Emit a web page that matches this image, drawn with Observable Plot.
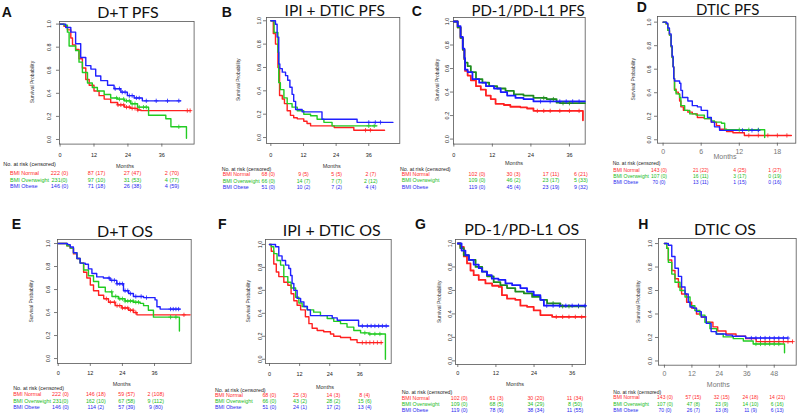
<!DOCTYPE html>
<html><head><meta charset="utf-8">
<script src="https://cdn.jsdelivr.net/npm/d3@7"></script>
<script src="https://cdn.jsdelivr.net/npm/@observablehq/plot@0.6"></script>
<style>
html,body{margin:0;padding:0;background:#fff;}
#root{position:relative;width:800px;height:414px;overflow:hidden;background:#fff;}
#overlay{position:absolute;left:0;top:0;}
</style></head><body><div id="root"></div>
<script>
// ---------------- DATA ----------------
const groups = ["BMI Normal", "BMI Overweight", "BMI Obese"];
const titles = ["D+T PFS", "IPI + DTIC PFS", "PD-1/PD-L1 PFS", "DTIC PFS", "D+T OS", "IPI + DTIC OS", "PD-1/PD-L1 OS", "DTIC OS"];
const letters = ["A", "B", "C", "D", "E", "F", "G", "H"];
const yTicks = [0, 0.2, 0.4, 0.6, 0.8, 1.0];
const ticks36 = [0, 12, 24, 36];
const ticks18 = [0, 6, 12, 18];
const ticks48 = [0, 12, 24, 36, 48];

// Kaplan-Meier steps [month, survival]
const A_normal = [[0,1],[1.4,.98],[2.6,.95],[3.8,.88],[4.4,.82],[5.5,.78],[6.7,.70],[7.9,.62],[9.1,.52],[10.3,.47],[12,.42],[13.8,.38],[15.6,.35],[17.9,.32],[20.3,.30],[22.7,.28],[25,.27],[27.4,.255],[28.6,.25],[46,.25]];
const A_over = [[0,1],[1.4,.99],[2.6,.93],[3.2,.81],[5.5,.77],[6.7,.67],[7.9,.58],[9.7,.49],[11.4,.45],[13.2,.42],[15.6,.39],[17.9,.36],[20.3,.35],[22.7,.335],[25,.31],[27.4,.28],[31.3,.21],[37.4,.18],[39.2,.11],[44.7,.01]];
const A_obese = [[0,1],[2,.97],[3.8,.93],[5.5,.83],[7.3,.71],[9.1,.64],[10.9,.61],[12.6,.55],[14.4,.51],[16.8,.47],[19.1,.44],[21.5,.41],[23.8,.38],[26.2,.36],[29.1,.335],[42.7,.335]];
const A_normal_c = [20.5,21.5,22.5,23.5,24.5,25.5,26.5,27.5,45,46];
const A_over_c = [20,21,22.5,23.5,24.5,25.5,26.5,28,29.5,30.5,42];
const A_obese_c = [19.5,21,22,23,24.5,25.5,27,28,30.5,34,38,42];

const B_normal = [[0,1],[0.9,.89],[1.7,.8],[2.6,.6],[3.2,.36],[4.2,.33],[5,.29],[6,.23],[7.2,.19],[8.4,.17],[9.7,.16],[12.1,.14],[13.3,.12],[14.6,.10],[23.3,.086],[30.5,.063],[41.8,.063]];
const B_over = [[0,1],[1.2,.9],[2.6,.73],[2.9,.47],[3.5,.41],[4.8,.34],[6,.29],[7.8,.26],[9.7,.23],[12.1,.20],[14.6,.186],[17,.157],[19.5,.13],[22.5,.10],[39,.10]];
const B_obese = [[0,1],[1.7,.97],[2.3,.86],[2.9,.63],[3.3,.59],[4.2,.56],[5.4,.53],[6.2,.49],[7,.43],[7.8,.37],[8.4,.31],[9.1,.24],[11.5,.22],[18.8,.157],[31.7,.13],[44.9,.13]];
const B_normal_c = [34.8,36.6];
const B_over_c = [36,38];
const B_obese_c = [36,38.4,40.3];

const C_normal = [[0,1],[1.2,.95],[2.1,.86],[2.8,.76],[3.3,.68],[3.5,.58],[4.3,.54],[5.3,.50],[6.9,.45],[8.4,.42],[10,.37],[11.5,.34],[13,.30],[15.6,.29],[17.6,.275],[20.7,.27],[22.8,.26],[24.8,.24],[40.2,.16]];
const C_over = [[0,1],[1.2,.95],[2.1,.86],[2.8,.76],[3.3,.68],[3.5,.65],[4.3,.62],[5.3,.57],[6.9,.51],[8.9,.48],[11,.45],[13.5,.43],[16.1,.41],[18.7,.38],[21.7,.37],[24.8,.35],[28.9,.34],[32,.31],[33.1,.305],[40.8,.305]];
const C_obese = [[0,1],[1.2,.96],[2.1,.87],[2.8,.77],[3.3,.69],[3.5,.59],[4.3,.57],[5.8,.51],[7.9,.48],[10,.45],[12.5,.43],[14.6,.40],[16.6,.37],[19.2,.35],[21.7,.34],[24.8,.32],[40.8,.32]];
const C_normal_c = [26,28,30,33,36,39];
const C_over_c = [28,31,34,36];
const C_obese_c = [27,30,33,35,37,39];

const D_normal = [[0,1],[0.47,.985],[0.74,.93],[1,.89],[1.26,.79],[1.42,.70],[1.58,.62],[1.68,.52],[1.8,.43],[2.05,.405],[2.4,.39],[2.6,.33],[2.8,.28],[3.2,.25],[3.9,.235],[4.6,.22],[5.4,.19],[6.5,.18],[7.6,.15],[8.4,.12],[8.9,.09],[10,.07],[11,.06],[12.8,.037],[20.2,.037]];
const D_over = [[0,1],[0.47,.985],[0.74,.93],[1,.89],[1.26,.79],[1.42,.70],[1.58,.62],[1.68,.52],[1.8,.42],[2.05,.39],[2.6,.36],[2.8,.29],[3.4,.25],[4.2,.22],[5.2,.21],[6.5,.18],[7.6,.16],[8.1,.15],[9.2,.14],[9.7,.085],[16,.02]];
const D_obese = [[0,1],[0.55,.99],[0.74,.95],[1,.90],[1.26,.80],[1.42,.71],[1.58,.62],[1.68,.52],[1.8,.50],[2.6,.48],[2.8,.42],[3.05,.36],[3.9,.33],[4.6,.29],[5.4,.28],[6,.25],[7,.19],[7.6,.15],[8.1,.11],[8.9,.08],[15.2,.08]];
const D_normal_c = [13.5,15,16.5,18,19.5];
const D_over_c = [12,13.5,15];
const D_obese_c = [12.5,14,15];

const E_normal = [[0,1],[3.2,.98],[4.5,.96],[5.7,.91],[7,.87],[8.2,.83],[9.5,.75],[10.7,.70],[12,.64],[13.2,.59],[15.1,.55],[17,.52],[18.8,.49],[21.3,.46],[23.8,.44],[26.3,.42],[28.1,.40],[29.4,.38],[49.3,.38]];
const E_over = [[0,1],[3.2,.98],[4.5,.96],[5.7,.92],[7,.87],[8.2,.83],[9.5,.77],[11.3,.72],[13.2,.67],[15.1,.62],[17.6,.58],[20.1,.54],[22.5,.52],[25,.50],[28.1,.49],[30.6,.48],[31.9,.46],[33.7,.42],[35.6,.36],[45.3,.24]];
const E_obese = [[0,1],[3.5,.99],[4.5,.97],[5.7,.92],[7,.87],[8.2,.83],[10.1,.82],[11.3,.78],[12.6,.74],[14.4,.71],[16.9,.70],[19.4,.68],[21.9,.65],[24.4,.59],[26.3,.565],[28.1,.54],[31.9,.53],[36.2,.51],[36.9,.45],[38.1,.43],[45.6,.43]];
const E_normal_c = [18,19.5,21,22,23,24,25,26,27,28,29,47];
const E_over_c = [20,21.5,23,24,25,26,27,28,29,30,42,44];
const E_obese_c = [19,20,21,22,23,24,25,26,27,29,31,33,42,43,44,45];

const F_normal = [[0,1],[0.7,.94],[1.7,.83],[2.7,.76],[3.7,.72],[5.7,.67],[7.3,.645],[8.6,.57],[9.7,.51],[11,.47],[12.4,.43],[14.3,.37],[15.7,.31],[17,.27],[19,.25],[21.6,.24],[24.3,.22],[25.6,.20],[28.3,.19],[32.3,.17],[34.9,.145],[44.9,.145]];
const F_over = [[0,1],[0.7,.98],[1.7,.92],[3,.86],[4.4,.82],[5.7,.72],[7.3,.67],[8.6,.62],[10.4,.54],[11.7,.49],[13,.46],[15,.43],[17.6,.41],[20.3,.38],[23,.355],[25.6,.33],[28.3,.31],[30.9,.28],[33.6,.25],[36.3,.23],[39.6,.22],[46.2,0]];
const F_obese = [[0,1],[1.7,1],[2.4,.98],[3.7,.90],[5,.86],[6.4,.82],[7.7,.79],[8.4,.73],[9,.66],[9.7,.60],[11,.53],[12.4,.50],[13.7,.46],[15.1,.43],[16.3,.38],[25,.36],[27,.34],[35.5,.29],[47.5,.29]];
const F_normal_c = [37,38.5,40,41.5,43,44.5];
const F_over_c = [38,40,42,44];
const F_obese_c = [37,39,40.5,42,43.5,45,46.5];

const G_normal = [[0,1],[0.8,.97],[1.9,.89],[2.9,.83],[4,.77],[5,.73],[6.6,.69],[8.7,.66],[10.8,.64],[12.9,.63],[13.9,.56],[15.5,.53],[18.1,.52],[19.7,.47],[21.8,.46],[23.9,.43],[26,.39],[29.7,.375],[40.2,.375]];
const G_over = [[0,1],[0.8,.96],[1.9,.90],[3.5,.86],[5.6,.80],[7.7,.76],[9.2,.72],[11.3,.67],[13.4,.645],[15.5,.62],[18.1,.59],[20.8,.575],[23.4,.545],[26,.52],[28.1,.49],[32.3,.465],[40.2,.465]];
const G_obese = [[0,1],[1.2,.94],[2.4,.90],[3.5,.86],[5,.82],[6.6,.79],[7.6,.76],[9.2,.73],[10.7,.70],[12.8,.69],[15,.66],[17.1,.645],[19.7,.62],[21.8,.59],[23.9,.56],[26,.52],[27.1,.47],[40.2,.47]];
const G_normal_c = [31,33,35,37,39];
const G_over_c = [30,33,35,38];
const G_obese_c = [28,30,32,34,36,38,40];

const H_normal = [[0,1],[1,.96],[1.7,.86],[3.2,.77],[4.6,.70],[6.1,.63],[7.5,.57],[9.7,.50],[11.9,.45],[14,.40],[16.1,.375],[18.3,.33],[21.2,.29],[23.3,.255],[26.9,.23],[31.3,.21],[35.5,.19],[40.1,.165],[56,.165]];
const H_over = [[0,1],[1,.96],[1.7,.84],[3.2,.74],[4.6,.67],[6.8,.60],[9,.545],[11.2,.47],[13.3,.43],[15.5,.39],[17.7,.33],[19.9,.275],[22.8,.23],[25.7,.205],[30.1,.19],[34.5,.17],[38.8,.145],[52.5,.07]];
const H_obese = [[0,1],[1.7,.985],[3.2,.89],[4.6,.79],[6.1,.72],[7.5,.63],[9,.57],[10.4,.50],[11.2,.46],[12.6,.45],[14,.42],[16.1,.375],[18.3,.32],[20.4,.25],[22.6,.23],[26.9,.22],[29.7,.21],[35.5,.195],[53.9,.195]];
const H_normal_c = [42,44,46,48,50,52,54,56];
const H_over_c = [40,42,44,46,48,50];
const H_obese_c = [38,40,42,44,46,48,50,52,54];

// Numbers at risk (censored)
const A_risk = [["222 (0)","87 (17)","27 (47)","2 (70)"],["231(0)","97 (10)","31 (53)","4 (77)"],["146 (0)","71 (18)","26 (38)","4 (59)"]];
const B_risk = [["68 (0)","9 (5)","5 (5)","2 (7)"],["66 (0)","14 (7)","7 (7)","2 (12)"],["51 (0)","10 (2)","7 (2)","4 (4)"]];
const C_risk = [["102 (0)","30 (3)","17 (11)","6 (21)"],["109 (0)","46 (2)","23 (17)","5 (33)"],["119 (0)","45 (4)","23 (19)","9 (32)"]];
const D_risk = [["143 (0)","21 (22)","4 (25)","1 (27)"],["107 (0)","16 (11)","3 (17)","0 (19)"],["70 (0)","13 (11)","1 (15)","0 (16)"]];
const E_risk = [["222 (0)","146 (18)","59 (57)","2 (108)"],["231(0)","162 (10)","67 (58)","9 (112)"],["146 (0)","114 (2)","57 (39)","9 (80)"]];
const F_risk = [["68 (0)","25 (3)","14 (3)","8 (4)"],["66 (0)","43 (2)","28 (2)","15 (6)"],["51 (0)","24 (1)","17 (2)","13 (4)"]];
const G_risk = [["102 (0)","61 (3)","30 (20)","11 (34)"],["109 (0)","68 (5)","34 (29)","8 (50)"],["119 (0)","78 (9)","38 (34)","11 (55)"]];
const H_risk = [["143 (0)","57 (15)","32 (15)","24 (18)","14 (21)"],["107 (0)","47 (8)","23 (9)","14 (10)","6 (16)"],["70 (0)","26 (7)","13 (8)","11 (9)","6 (13)"]];

// ---------------- LAYOUT (pixels, styles) ----------------
const layout = {
  A: {frame:[58.7,20.7,193.3,143.3], xd:[-0.2,47.4], yd:[-0.04,1.0225], ylab:10, xlab:10.7, letter:[1.7,16.7], title:[128,17.5], tfs:16, surv:32, months:[125,166], head:[3.3,164], labX:10, rows:[173,180,186.3], cols:[59.5,96.5,132.5,172], rfs:5.5},
  B: {frame:[266,16.7,399.3,142.7], xd:[-1.6,47.4], yd:[-0.051,1.028], ylab:7, xlab:11.3, letter:[221.7,16.7], title:[334.7,15.5], tfs:15.5, surv:238.3, months:[331.7,165.7], head:[221.7,169], labX:222.7, rows:[174,180.7,186.7], cols:[268.3,303.5,336.7,370.8], rfs:5.2},
  C: {frame:[453.3,16.7,585,143.3], xd:[-0.1,40.9], yd:[-0.0425,1.034], ylab:6.6, xlab:10.7, letter:[411.7,16], title:[528,15.5], tfs:15, surv:436.7, months:[514,163.3], head:[400,169.3], labX:401.7, rows:[174.3,180.3,186.7], cols:[477,513.5,551,580.8], dark:true, rfs:5.3},
  D: {frame:[656.7,16,795,142.7], xd:[-0.88,20.9], yd:[-0.029,1.048], ylab:8.7, xlab:9, letter:[636.7,11.7], title:[727.7,15.2], tfs:15, surv:633.3, months:[725,156], head:[612.7,163.3], labX:613.3, rows:[170,175.7,181.7], cols:[659,700.8,739.8,774.8], big:true, rfs:5},
  E: {frame:[57.3,239.3,191,363.3], xd:[-0.26,49.7], yd:[-0.043,1.035], ylab:9, xlab:9.4, letter:[11.7,229.3], title:[125,236.5], tfs:16, surv:30.7, months:[121.7,384], head:[13.3,388.3], labX:13.3, rows:[394.3,400.7,407], cols:[60.5,95.8,126.7,155.8], rfs:5.3},
  F: {frame:[265,239.3,390.7,363.3], xd:[-1.6,48.5], yd:[-0.037,1.043], ylab:5.7, xlab:11, letter:[218,229.3], title:[331.7,236], tfs:16, surv:248.3, months:[325,386.7], head:[215,390], labX:215, rows:[395,401,407.3], cols:[269.3,300,333.3,364.7], rfs:5.3},
  G: {frame:[455,239.3,585,364.3], xd:[-0.72,40.2], yd:[-0.031,1.034], ylab:5, xlab:9, letter:[415,229.3], title:[521.7,235], tfs:16, surv:439.3, months:[515,384], head:[401.7,391.7], labX:401.7, rows:[397.7,404,410.3], cols:[459.2,496.5,535.8,575], dark:true, rfs:5.3},
  H: {frame:[658.3,238.3,796,365], xd:[-2.6,57.6], yd:[-0.036,1.043], ylab:8.3, xlab:9, letter:[638.3,229.3], title:[725,235], tfs:16, surv:638.3, months:[718.3,384], head:[613.3,391.7], labX:613.3, rows:[397.3,403.7,410], cols:[665,693.3,721.7,750.5,777.2], big:true, rfs:5}
};

const panels = [
  {id:"A", curves:[A_normal,A_over,A_obese], cens:[A_normal_c,A_over_c,A_obese_c], risk:A_risk, xticks:ticks36},
  {id:"B", curves:[B_normal,B_over,B_obese], cens:[B_normal_c,B_over_c,B_obese_c], risk:B_risk, xticks:ticks36},
  {id:"C", curves:[C_normal,C_over,C_obese], cens:[C_normal_c,C_over_c,C_obese_c], risk:C_risk, xticks:ticks36},
  {id:"D", curves:[D_normal,D_over,D_obese], cens:[D_normal_c,D_over_c,D_obese_c], risk:D_risk, xticks:ticks18},
  {id:"E", curves:[E_normal,E_over,E_obese], cens:[E_normal_c,E_over_c,E_obese_c], risk:E_risk, xticks:ticks36},
  {id:"F", curves:[F_normal,F_over,F_obese], cens:[F_normal_c,F_over_c,F_obese_c], risk:F_risk, xticks:ticks36},
  {id:"G", curves:[G_normal,G_over,G_obese], cens:[G_normal_c,G_over_c,G_obese_c], risk:G_risk, xticks:ticks36},
  {id:"H", curves:[H_normal,H_over,H_obese], cens:[H_normal_c,H_over_c,H_obese_c], risk:H_risk, xticks:ticks48}
];

const lineColors = ["#ff2020", "#22cc22", "#2020ff"];
const lineColorsDark = ["#ff2020", "#1e8c1e", "#1a1aff"];
const textColors = ["#ff2a2a", "#22bb22", "#2a2aee"];
const smallFont = "'Liberation Sans', Arial, sans-serif";

function stepAt(curve, t) {
  let s = curve[0][1];
  for (const [x, y] of curve) if (x <= t) s = y;
  return s;
}

const root = document.getElementById("root");

panels.forEach((p, i) => {
  const L = layout[p.id];
  const [fl, ft, fr, fb] = L.frame;
  const m = {top: 4, right: 4, bottom: 18, left: 18};
  const cols = L.dark ? lineColorsDark : lineColors;
  const sw = L.dark ? 1.8 : 1.4;
  const marks = [
    Plot.axisX({ticks: p.xticks, tickSize: 3, tickFormat: () => "", label: null, stroke: "#444", strokeWidth: 0.7}),
    Plot.axisY({ticks: yTicks, tickSize: 3, tickFormat: () => "", label: null, stroke: "#444", strokeWidth: 0.7}),
    Plot.text(p.xticks, {x: d => d, text: d => String(d), frameAnchor: "bottom", dy: L.xlab, lineAnchor: "middle", fontSize: L.big ? 7 : 5.5, fill: L.big ? "#777" : "#222"}),
    Plot.text(yTicks, {y: d => d, text: d => d.toFixed(1), frameAnchor: "left", dx: -L.ylab, rotate: -90, textAnchor: "middle", lineAnchor: "middle", fontSize: 5.5, fill: "#222"}),
    Plot.frame({stroke: "#555", strokeWidth: 0.8})
  ];
  p.curves.forEach((c, k) => {
    marks.push(Plot.line(c, {x: d => d[0], y: d => d[1], curve: "step-after", stroke: cols[k], strokeWidth: sw}));
  });
  p.cens.forEach((ts, k) => {
    marks.push(Plot.dot(ts, {x: d => d, y: d => stepAt(p.curves[k], d), symbol: "plus", r: 1.5, stroke: cols[k], strokeWidth: 0.8}));
  });
  const svg = Plot.plot({
    width: fr - fl + m.left + m.right,
    height: fb - ft + m.top + m.bottom,
    marginTop: m.top, marginRight: m.right, marginBottom: m.bottom, marginLeft: m.left,
    x: {domain: L.xd},
    y: {domain: L.yd},
    style: {background: "transparent", fontFamily: smallFont, overflow: "visible"},
    marks
  });
  svg.style.position = "absolute";
  svg.style.left = (fl - m.left) + "px";
  svg.style.top = (ft - m.top) + "px";
  svg.style.maxWidth = "none";
  root.appendChild(svg);
});

// ---------------- overlay text ----------------
const ov = d3.select(root).append("svg").attr("id", "overlay").attr("width", 800).attr("height", 414);
panels.forEach((p, i) => {
  const L = layout[p.id];
  const [fl, ft, fr, fb] = L.frame;
  ov.append("text").attr("x", L.letter[0]).attr("y", L.letter[1]).text(letters[i])
    .attr("font-family", smallFont).attr("font-weight", "bold").attr("font-size", 14).attr("fill", "#111");
  ov.append("text").attr("x", L.title[0]).attr("y", L.title[1]).text(titles[i])
    .attr("font-family", "Lato, 'Open Sans', sans-serif").attr("font-size", L.tfs).attr("text-anchor", "middle").attr("fill", "#111");
  ov.append("text").attr("transform", `translate(${L.surv},${(ft + fb) / 2}) rotate(-90)`).text("Survival Probability")
    .attr("font-family", smallFont).attr("font-size", 5).attr("text-anchor", "middle").attr("dominant-baseline", "central").attr("fill", "#333");
  ov.append("text").attr("x", L.months[0]).attr("y", L.months[1]).text("Months")
    .attr("font-family", smallFont).attr("font-size", L.big ? 7 : 5.5).attr("text-anchor", "middle").attr("dominant-baseline", "central").attr("fill", L.big ? "#777" : "#333");
  ov.append("text").attr("x", L.head[0]).attr("y", L.head[1]).text("No. at risk (censored)")
    .attr("font-family", smallFont).attr("font-size", L.rfs).attr("dominant-baseline", "central").attr("fill", "#222");
  groups.forEach((g, k) => {
    ov.append("text").attr("x", L.labX).attr("y", L.rows[k]).text(g)
      .attr("font-family", smallFont).attr("font-size", L.rfs).attr("dominant-baseline", "central").attr("fill", textColors[k]);
    p.risk[k].forEach((v, j) => {
      ov.append("text").attr("x", L.cols[j]).attr("y", L.rows[k]).text(v)
        .attr("font-family", smallFont).attr("font-size", L.rfs).attr("text-anchor", "middle").attr("dominant-baseline", "central").attr("fill", textColors[k]);
    });
  });
});
</script></body></html>
